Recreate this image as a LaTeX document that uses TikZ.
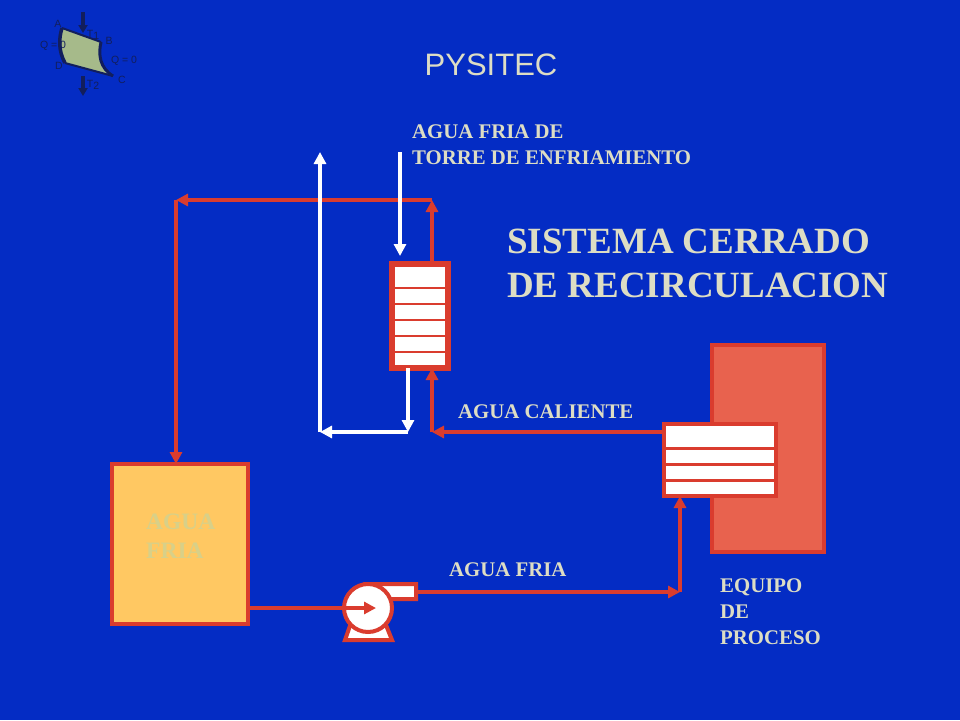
\documentclass[tikz,border=0pt]{standalone}
\usepackage{fontspec}
\setmainfont{Liberation Serif}
\newfontfamily\iconfont{Liberation Sans}
\usetikzlibrary{arrows.meta,calc}
\definecolor{fondo}{RGB}{4,44,196}
\definecolor{rojo}{RGB}{218,60,46}
\definecolor{crema}{RGB}{221,221,196}
\definecolor{tanque}{RGB}{255,200,98}
\definecolor{equipo}{RGB}{232,98,78}
\definecolor{oscuro}{RGB}{18,30,92}
\definecolor{ciclo}{RGB}{166,186,138}
\tikzset{
  pipe/.style={draw=rojo,line width=3.5pt,-{Triangle[length=12pt,width=12pt]}},
  coldpipe/.style={draw=white,line width=4pt,-{Triangle[length=12pt,width=12pt]}},
  vessel/.style={draw=rojo,inner sep=0pt,outer sep=0pt},
  lbl/.style={text=crema,font=\bfseries\fontsize{20.8}{26}\selectfont,align=left,anchor=north west,inner sep=0pt},
  iconlbl/.style={text=oscuro,font=\iconfont\fontsize{10.5}{10.5}\selectfont,inner sep=0pt}
}
\begin{document}
\begin{tikzpicture}[x=1pt,y=-1pt]
\useasboundingbox (0,0) rectangle (960,720);
\fill[fondo] (0,0) rectangle (960,720);
% cycle icon
\fill[ciclo] (62,28) -- (101,42)
  .. controls (98,55) and (100,68) .. (113,76) -- (65,63) .. controls (58,50) and (59,38) .. (62,28);
\draw[oscuro,line width=2pt] (62,28) -- (101,42);
\draw[oscuro,line width=3pt] (101,42) .. controls (98,55) and (100,68) .. (113,76);
\draw[oscuro,line width=2pt] (113,76) -- (65,63);
\draw[oscuro,line width=3.5pt] (65,63) .. controls (58,50) and (59,38) .. (62,28);
\draw[oscuro,line width=4pt,-{Triangle[length=8pt,width=9pt]}] (83,12) -- (83,33);
\draw[oscuro,line width=4pt,-{Triangle[length=8pt,width=9pt]}] (83,76) -- (83,96);
\foreach \x/\y/\t/\n in {58/24/A/ica,109/41/B/icb,122/80/C/icc,59/66/D/icd,53/46/Q = 0/icq,124/61/Q = 0/icr}
  \node[iconlbl] (\n) at (\x,\y) {\t};
\node[iconlbl] (ict) at (93,35) {T\raisebox{-2pt}{1}};
\node[iconlbl] (ics) at (93,85) {T\raisebox{-2pt}{2}};
% titles
\node[text=crema,font=\iconfont\fontsize{31}{31}\selectfont,inner sep=0pt] (pysitec) at (491,65) {PYSITEC};
\node[lbl,font=\bfseries\fontsize{37}{44}\selectfont] (titulo) at (507,229) {SISTEMA CERRADO\\DE RECIRCULACION};
\node[lbl] (torre) at (412,124.5) {AGUA FRIA DE\\TORRE DE ENFRIAMIENTO};
\node[lbl] (caliente) at (458,405) {AGUA CALIENTE};
\node[lbl] (fria) at (449,563) {AGUA FRIA};
\node[lbl] (proceso) at (720,579) {EQUIPO\\DE\\PROCESO};
% equipment
\node[vessel,fill=tanque,line width=4pt,minimum width=136pt,minimum height=160pt] (tank) at (180,544) {};
\node[lbl,text={rgb,255:red,216;green,208;blue,136},font=\bfseries\fontsize{23.5}{29}\selectfont] (aguafria) at (146,513.5) {AGUA\\FRIA};
\node[vessel,fill=equipo,line width=4pt,minimum width=112pt,minimum height=207pt] (proc) at (768,448) {};
\node[vessel,fill=white,line width=6pt,minimum width=56pt,minimum height=104pt] (hxa) at (420,316) {};
\foreach \y in {288,304,320,336,352} \draw[rojo,line width=1.2pt] (395,\y) -- (445,\y);
\node[vessel,fill=white,line width=4pt,minimum width=112pt,minimum height=72pt] (hxb) at (720,460) {};
\foreach \y in {448,464,480} \draw[rojo,line width=3pt] (666,\y) -- (774,\y);
% corners
\coordinate (tee) at (432,200);
\coordinate (leftup) at (176,200);
\coordinate (hotin) at (432,432);
\coordinate (coldin) at (680,592);
\coordinate (outa) at (408,432);
\coordinate (outb) at (320,432);
\coordinate (whiteend) at (320,152);
\coordinate (whitestart) at (400,152);
\coordinate (whitetip) at (400,256);
\coordinate (pumpout) at (416,592);
% pump
\filldraw[fill=white,draw=rojo,line width=4pt] (345,640) -- (392,640) -- (384,620) -- (352,620) -- cycle;
\filldraw[fill=white,draw=rojo,line width=4pt] (368,584) -- (416,584) -- (416,599) -- (385,599) -- cycle;
\node[vessel,circle,fill=white,line width=4pt,minimum size=48pt] (pump) at (368,608) {};
\coordinate (pumptip) at ($(pump.center)+(8,0)$);
% red lines
\draw[pipe] (hxa.north -| tee) -- (tee);
\draw[pipe] (tee) -- (leftup);
\draw[pipe] (leftup) -- (tank.north -| leftup);
\draw[pipe] (hxb.west |- hotin) -- (hotin);
\draw[pipe] (hotin) -- (hxa.south -| hotin);
\draw[pipe] (tank.east |- pump) -- (pumptip);
\draw[pipe] (pumpout) -- (coldin);
\draw[pipe] (coldin) -- (hxb.south -| coldin);
% white lines
\draw[coldpipe] (whitestart) -- (whitetip);
\draw[coldpipe] (hxa.south -| outa) -- (outa);
\draw[coldpipe] (outa) -- (outb);
\draw[coldpipe] (outb) -- (whiteend);
\end{tikzpicture}
\end{document}
